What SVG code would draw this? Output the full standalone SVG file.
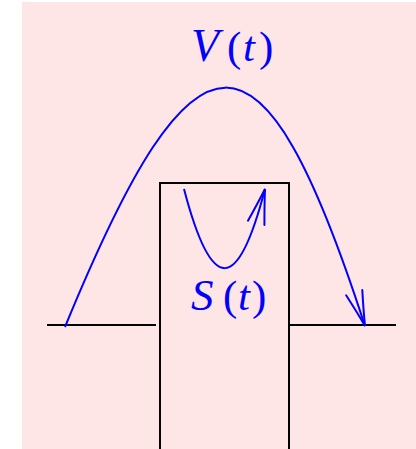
<svg xmlns="http://www.w3.org/2000/svg" width="416" height="449" viewBox="0 0 416 449">
  <style>
    .blk { fill: none; stroke: #000; stroke-width: 2; }
    .blu { fill: none; stroke: #0000ff; stroke-width: 2; }
    .lbl { font-family: "Liberation Serif", "DejaVu Serif", serif; font-size: 43px; fill: #0000ff; }
    .it { font-style: italic; }
  </style>
  <defs>
    <marker id="to" markerUnits="userSpaceOnUse" orient="auto" markerWidth="60" markerHeight="40" refX="0" refY="0" viewBox="-50 -20 60 40" overflow="visible">
      <path d="M-35,-8.5 Q-14,-3 0,0 Q-14,3 -35,8.5" fill="none" stroke="#0000ff" stroke-width="2" stroke-linecap="round"/>
    </marker>
  </defs>
  <rect id="background" x="22" y="2" width="394" height="447" fill="#ffe6e6"/>
  <g id="barrier">
    <path class="blk" d="M47,325 H156"/>
    <path class="blk" d="M160,449 V183 H289 V449"/>
    <path class="blk" d="M289,325 H396"/>
  </g>
  <g id="connectors">
    <path id="V-curve" class="blu" d="M65,327 C196,8 262,8 365,326" marker-end="url(#to)"/>
    <path id="S-curve" class="blu" d="M184,189 C212,296 238,293 265,189" marker-end="url(#to)"/>
  </g>
  <g id="label-V">
    <text class="lbl" y="61"><tspan class="it" x="191" font-size="46">V</tspan><tspan x="227">(</tspan><tspan class="it" x="243">t</tspan><tspan x="259">)</tspan></text>
  </g>
  <g id="label-S">
    <text class="lbl" y="310"><tspan class="it" x="191" font-size="45">S</tspan><tspan x="223">(</tspan><tspan class="it" x="238">t</tspan><tspan x="252">)</tspan></text>
  </g>
</svg>
